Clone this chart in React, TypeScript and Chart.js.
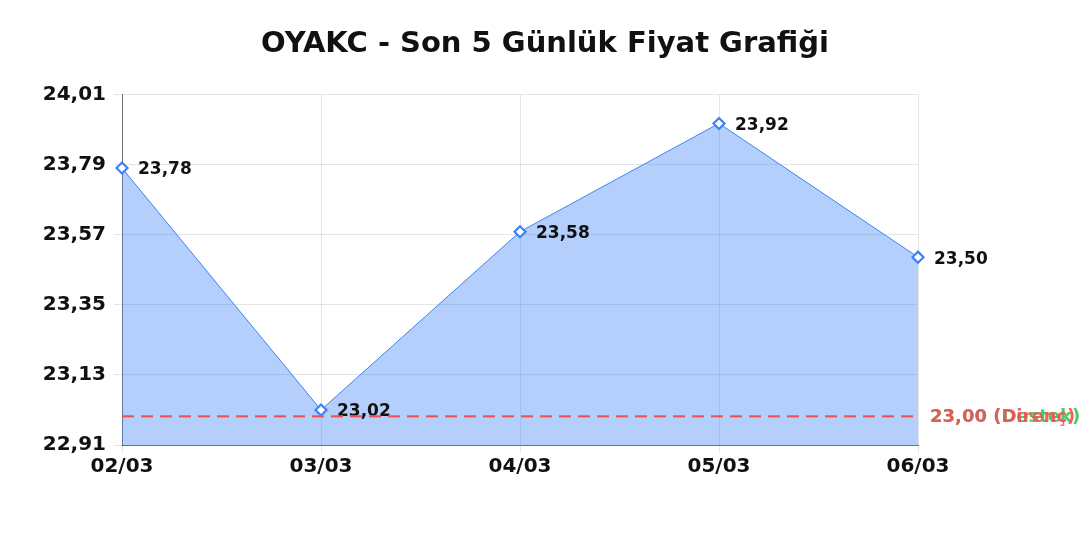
import React, { useEffect, useRef } from "react";
import { Chart, registerables } from "chart.js";

Chart.register(...registerables);

const titleText = "OYAKC - Son 5 Günlük Fiyat Grafiği";
const categories = ["02/03", "03/03", "04/03", "05/03", "06/03"];
const prices = [23.78, 23.02, 23.58, 23.92, 23.5];
const yTicks = [22.91, 23.13, 23.35, 23.57, 23.79, 24.01];
const supportLevel = 23.0;
const resistanceLevel = 23.0;
const supportLabel = "23,00 (Destek)";
const resistanceLabel = "23,00 (Direnç)";

const fmt = (v: number) => v.toFixed(2).replace(".", ",");
const FONT = "'DejaVu Sans', sans-serif";

const overlayPlugin = {
  id: "overlay",
  afterDatasetsDraw(chart: any) {
    const { ctx, chartArea } = chart;
    const y = chart.scales.y;
    const meta = chart.getDatasetMeta(0);
    ctx.save();
    ctx.font = `bold 17px ${FONT}`;
    ctx.fillStyle = "#111";
    ctx.textAlign = "left";
    ctx.textBaseline = "middle";
    meta.data.forEach((pt: any, i: number) => {
      ctx.fillText(fmt(prices[i]), pt.x + 16, pt.y + 2);
    });
    const lines = [
      { v: supportLevel, color: "rgb(52,199,89)", label: supportLabel },
      { v: resistanceLevel, color: "rgb(240,82,82)", label: resistanceLabel },
    ];
    lines.forEach((l) => {
      const py = y.getPixelForValue(l.v);
      ctx.beginPath();
      ctx.setLineDash([12, 7]);
      ctx.lineWidth = 1.8;
      ctx.strokeStyle = l.color;
      ctx.moveTo(chartArea.left, py);
      ctx.lineTo(chartArea.right, py);
      ctx.stroke();
      ctx.setLineDash([]);
      ctx.font = `bold 18px ${FONT}`;
      ctx.fillStyle = l.color;
      ctx.globalAlpha = 0.9;
      ctx.textAlign = "left";
      ctx.textBaseline = "middle";
      ctx.fillText(l.label, chartArea.right + 12, py + 1);
      ctx.globalAlpha = 1;
    });
    ctx.restore();
  },
};

export default function App() {
  const ref = useRef<HTMLCanvasElement | null>(null);
  useEffect(() => {
    if (!ref.current) return;
    const chart = new Chart(ref.current, {
      type: "line",
      data: {
        labels: categories,
        datasets: [
          {
            data: prices,
            borderColor: "rgba(59,130,246,1)",
            backgroundColor: "rgba(59,130,246,0.38)",
            borderWidth: 1,
            fill: "start",
            tension: 0,
            pointStyle: "rectRot",
            pointRadius: 5.5,
            pointBorderWidth: 2.2,
            pointBackgroundColor: "#fff",
            pointBorderColor: "rgba(59,130,246,1)",
            yAxisID: "y",
          },
        ],
      },
      options: {
        animation: false,
        responsive: false,
        layout: { padding: { left: 10, right: 0, top: 22, bottom: 59 } },
        plugins: {
          legend: { display: false },
          tooltip: { enabled: false },
          title: {
            display: true,
            text: titleText,
            color: "#111",
            font: { family: FONT, size: 29, weight: "bold" },
            padding: { top: 5, bottom: 33 },
          },
        },
        scales: {
          x: {
            offset: false,
            grid: { color: "rgba(0,0,0,0.1)" },
            border: { color: "rgba(0,0,0,0.5)" },
            ticks: { color: "#111", font: { family: FONT, size: 20, weight: "bold" }, padding: 2, maxRotation: 0 },
          },
          y: {
            min: yTicks[0],
            max: yTicks[yTicks.length - 1],
            afterBuildTicks: (s: any) => {
              s.ticks = yTicks.map((v) => ({ value: v }));
            },
            afterFit: (s: any) => {
              s.width = 112;
            },
            grid: { color: "rgba(0,0,0,0.1)" },
            border: { color: "rgba(0,0,0,0.5)" },
            ticks: {
              color: "#111",
              font: { family: FONT, size: 20, weight: "bold" },
              padding: 8,
              callback: (v: any) => fmt(Number(v)),
            },
          },
          y2: {
            position: "right",
            display: true,
            min: 0,
            max: 1,
            grid: { display: false },
            border: { display: false },
            ticks: { display: false },
            afterFit: (s: any) => {
              s.width = 162;
            },
          },
        },
      },
      plugins: [overlayPlugin],
    });
    return () => chart.destroy();
  }, []);
  return (
    <div style={{ position: "fixed", left: 0, top: 0, width: 1080, height: 540, background: "#fff" }}>
      <canvas ref={ref} width={1080} height={540} style={{ width: 1080, height: 540 }} />
    </div>
  );
}
